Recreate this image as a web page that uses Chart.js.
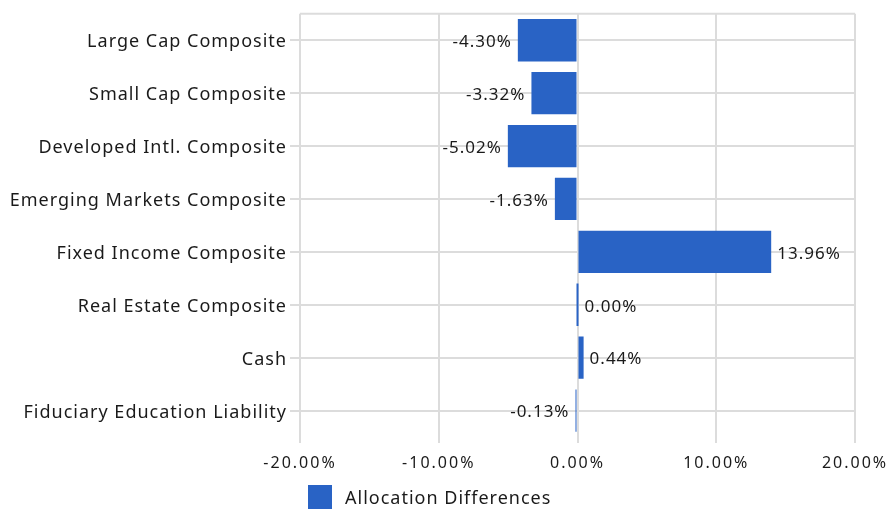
<!DOCTYPE html>
<html>
<head>
<meta charset="utf-8">
<script src="https://cdn.jsdelivr.net/npm/chart.js"></script>
<style>
    html, body { margin: 0; padding: 0; background: #fff; }
    #wrap { position: relative; width: 895px; height: 509px; }
    #legend { position: absolute; left: 308px; top: 485px; height: 24px; font: 18px "Noto Sans"; letter-spacing: 1px; color: #1a1a1a; display: flex; align-items: center; }
    #legend i { display: inline-block; width: 24px; height: 24px; background: #2963c5; margin-right: 13px; }
</style>
</head>
<body>
<div id="wrap"><canvas id="chart" width="895" height="509"></canvas><div id="legend"><i></i><span>Allocation Differences</span></div></div>
<script>
const categories = ['Large Cap Composite', 'Small Cap Composite', 'Developed Intl. Composite', 'Emerging Markets Composite', 'Fixed Income Composite', 'Real Estate Composite', 'Cash', 'Fiduciary Education Liability'];
const differences = [-4.30, -3.32, -5.02, -1.63, 13.96, 0.00, 0.44, -0.13];
const axisTicks = [-20, -10, 0, 10, 20];
const seriesName = 'Allocation Differences';

function format_pct(v) { return v.toFixed(2) + '%'; }
// the reference text is spaced out, canvas letterSpacing per scale
function spaced(px) {
    return function(scale) {
        if (scale._spaced) return;
        const draw = scale.drawLabels;
        scale.drawLabels = function(area) { this.ctx.save(); this.ctx.letterSpacing = px; draw.call(this, area); this.ctx.restore(); };
        scale._spaced = true;
    };
}

// value labels next to each bar end, top border of the plot area
const barLabels = {
    id: 'barLabels',
    afterDatasetsDraw(chart) {
        const ctx = chart.ctx, meta = chart.getDatasetMeta(0);
        ctx.save();
        ctx.font = '17px "Noto Sans"'; ctx.letterSpacing = '1px'; ctx.fillStyle = '#1a1a1a'; ctx.textBaseline = 'middle';
        meta.data.forEach((bar, i) => {
            const v = differences[i];
            if (v < 0) { ctx.textAlign = 'right'; ctx.fillText(format_pct(v), Math.min(bar.x, bar.base) - 6, bar.y + 2); }
            else { ctx.textAlign = 'left'; ctx.fillText(format_pct(v), Math.max(bar.x, bar.base) + 6, bar.y + 2); }
        });
        const a = chart.chartArea;
        ctx.strokeStyle = '#dcdcdc'; ctx.lineWidth = 2;
        ctx.beginPath(); ctx.moveTo(a.left, a.top); ctx.lineTo(a.right, a.top); ctx.stroke();
        ctx.restore();
    }
};

Chart.defaults.font.family = '"Noto Sans"';
Chart.defaults.color = '#1a1a1a';

const chart = new Chart(document.getElementById('chart'), {
    type: 'bar',
    data: {
        labels: categories,
        datasets: [{ label: seriesName, data: differences, backgroundColor: '#2963c5', borderWidth: 0, categoryPercentage: 0.8, barPercentage: 1, minBarLength: 2 }],
    },
    options: {
        indexAxis: 'y',
        responsive: false,
        animation: false,
        layout: { padding: { top: 12, right: 40, bottom: 0, left: 0 } },
        scales: {
            x: {
                min: -20, max: 20,
                afterBuildTicks(scale) { scale.ticks = axisTicks.map(v => ({ value: v })); },
                afterFit(scale) { scale.height = 72; },
                afterUpdate: spaced('2px'),
                grid: { color: '#dcdcdc', lineWidth: 2, tickLength: 6 },
                border: { display: false },
                ticks: { padding: 11, font: { size: 16 }, callback: v => format_pct(v) },
            },
            y: {
                afterFit(scale) { scale.width = 300; },
                afterUpdate: spaced('1px'),
                grid: { color: '#dcdcdc', lineWidth: 2, tickLength: 10, offset: false },
                border: { display: false },
                ticks: { padding: 3, labelOffset: 2, font: { size: 18 } },
            },
        },
        plugins: { legend: { display: false }, tooltip: { enabled: false } },
    },
    plugins: [barLabels],
});
</script>
</body>
</html>
